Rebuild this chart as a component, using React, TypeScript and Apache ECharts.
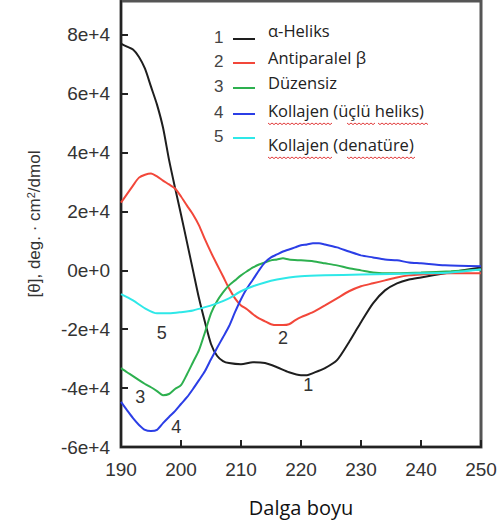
import React, { useEffect, useRef } from "react";
import * as echarts from "echarts";

const seriesNames = ["α-Heliks", "Antiparalel β", "Düzensiz", "Kollajen (üçlü heliks)", "Kollajen (denatüre)"];
const seriesNumbers = ["1", "2", "3", "4", "5"];
const seriesColors = ["#1e1e1e", "#f2473a", "#2db04f", "#2b3ee6", "#2ee8e8"];

const helixX = [190, 191, 192, 193, 194, 195, 196, 197, 198, 199, 200, 201, 202, 203, 204, 205, 206, 207, 208, 210, 212, 214, 216, 218, 220, 221, 222, 224, 226, 228, 229, 230, 232, 234, 236, 238, 240, 244, 250];
const helixY = [77000, 76000, 75000, 72500, 68500, 62400, 56300, 48500, 37600, 28100, 19000, 9500, 0, -9500, -17600, -25000, -29000, -30800, -31500, -31900, -31200, -31500, -32900, -34600, -35600, -35600, -34900, -33200, -30500, -24400, -21000, -17600, -11200, -6800, -4400, -3100, -2400, -1000, 1000];

const betaX = [190, 192, 193, 194, 195, 196, 197, 198, 199, 200, 201, 202, 203, 204, 205, 206, 207, 208, 209, 210, 211, 212, 213, 214, 215, 216, 217, 218, 219, 220, 222, 224, 226, 228, 230, 232, 234, 236, 238, 240, 245, 250];
const betaY = [23000, 28800, 31500, 32500, 32900, 31900, 30500, 29200, 27800, 25100, 22000, 19000, 15300, 10500, 6100, 2000, -2000, -6100, -9500, -11900, -13200, -14900, -16300, -17300, -18300, -18600, -18600, -18300, -17000, -15900, -14200, -11900, -9500, -7100, -5400, -4400, -3400, -2400, -1700, -1400, -1000, -1000];

const coilX = [190, 191, 192, 193, 194, 195, 196, 197, 198, 199, 200, 201, 202, 203, 204, 205, 206, 207, 208, 209, 210, 211, 212, 213, 214, 215, 216, 217, 218, 220, 222, 224, 226, 228, 230, 232, 235, 240, 245, 250];
const coilY = [-33200, -34600, -35900, -37300, -38600, -39700, -41000, -42400, -42000, -40300, -39000, -35300, -31200, -27100, -21000, -14600, -10500, -7500, -5100, -3400, -1700, -300, 1000, 2000, 2700, 3400, 3700, 4100, 3700, 3400, 3100, 2400, 1700, 700, 0, -700, -1000, -700, -300, 300];

const collagenX = [190, 191, 192, 193, 194, 195, 196, 197, 198, 199, 200, 201, 202, 203, 204, 205, 206, 207, 208, 209, 210, 211, 212, 213, 214, 215, 216, 217, 218, 219, 220, 221, 222, 223, 224, 226, 228, 230, 232, 234, 236, 238, 240, 244, 250];
const collagenY = [-44700, -47500, -50200, -52500, -54200, -54600, -54200, -51900, -49800, -47800, -45400, -43100, -40300, -37300, -34200, -30200, -26400, -22700, -19000, -14200, -9800, -6100, -3100, 0, 2700, 4400, 5400, 6400, 7100, 7800, 8500, 8800, 9200, 9200, 8800, 7800, 6400, 5100, 4400, 3700, 3400, 2700, 2400, 1700, 1400];

const denatX = [190, 192, 194, 196, 198, 200, 202, 204, 206, 208, 210, 212, 214, 216, 218, 220, 224, 230, 240, 245, 250];
const denatY = [-8100, -10200, -12900, -14600, -14600, -14200, -13600, -12500, -11200, -9500, -7100, -5400, -4100, -3100, -2400, -2000, -1700, -1400, -1000, -700, 300];

const seriesX = [helixX, betaX, coilX, collagenX, denatX];
const seriesY = [helixY, betaY, coilY, collagenY, denatY];

// curve number annotations (wavelength, value)
const annotX = [221.2, 217, 193.2, 199.2, 196.8];
const annotY = [-39000, -23000, -43000, -53200, -21400];

const xMin = 190;
const xMax = 250;
const xInterval = 10;
const yMin = -60000;
const yMax = 91500;
const yInterval = 20000;

const xAxisTitle = "Dalga boyu";

export default function App() {
  const ref = useRef<HTMLDivElement>(null);
  useEffect(() => {
    if (!ref.current) return;
    const chart = echarts.init(ref.current, undefined, { renderer: "svg" });
    const series = seriesNames.map((name, i) => ({
      name,
      type: "line",
      data: seriesX[i].map((x, j) => [x, seriesY[i][j]]),
      showSymbol: false,
      smooth: 0.25,
      lineStyle: { color: seriesColors[i], width: 2 },
      itemStyle: { color: seriesColors[i] },
      z: 3,
      markPoint: {
        symbol: "circle",
        symbolSize: 0,
        silent: true,
        label: {
          show: true,
          formatter: seriesNumbers[i],
          color: "#333",
          fontSize: 18,
          fontFamily: "Liberation Sans, Arial, sans-serif",
          position: "inside",
        },
        data: [{ coord: [annotX[i], annotY[i]] }],
      },
    }));

    const legendRowsNum = [38, 62, 87, 113, 137];
    const legendRowsText = [33, 60, 85, 113, 147];
    const graphics: any[] = [];
    seriesNames.forEach((name, i) => {
      graphics.push({
        type: "text",
        left: 214,
        top: legendRowsNum[i] - 9,
        style: { text: seriesNumbers[i], fill: "#444", fontSize: 17, fontFamily: "Liberation Sans, Arial, sans-serif" },
      });
      graphics.push({
        type: "line",
        shape: { x1: 233, y1: legendRowsNum[i] + 1, x2: 255, y2: legendRowsNum[i] + 1 },
        style: { stroke: seriesColors[i], lineWidth: 2 },
      });
      graphics.push({
        type: "text",
        left: 268,
        top: legendRowsText[i] - 11,
        style: { text: name, fill: "#222", fontSize: 16.5, fontFamily: "Open Sans, sans-serif" },
      });
    });
    // spell-check wavy underlines
    const squiggles = [
      [268, 333, 123], [347, 375, 123], [378, 428, 123],
      [268, 333, 157], [347, 416, 157],
    ];
    squiggles.forEach(([a, b, y]) => {
      const pts: number[][] = [];
      let k = 0;
      for (let x = a; x <= b; x += 2) {
        pts.push([x, y + (k % 2 === 0 ? 0 : 1.6)]);
        k++;
      }
      graphics.push({ type: "polyline", shape: { points: pts }, style: { stroke: "#e23b3b", lineWidth: 1, fill: null } });
    });

    chart.setOption({
      animation: false,
      backgroundColor: "#fff",
      grid: {
        left: 121,
        right: 23,
        top: 1,
        bottom: 79,
        show: true,
        borderColor: "#555",
        borderWidth: 3,
        backgroundColor: "transparent",
      },
      xAxis: {
        type: "value",
        min: xMin,
        max: xMax,
        interval: xInterval,
        name: xAxisTitle,
        nameLocation: "middle",
        nameGap: 50,
        nameTextStyle: { fontSize: 20, color: "#111", fontFamily: "Open Sans, sans-serif" },
        axisLine: { show: true, onZero: false, lineStyle: { color: "#222", width: 2 } },
        axisTick: { show: true, inside: true, length: 7, lineStyle: { color: "#222", width: 2 } },
        axisLabel: { fontSize: 19, color: "#333", margin: 13, fontFamily: "Liberation Sans, Arial, sans-serif" },
        splitLine: { show: false },
      },
      yAxis: {
        type: "value",
        min: yMin,
        max: yMax,
        interval: yInterval,
        name: "[θ], deg. · cm{sup|2}/dmol",
        nameLocation: "middle",
        nameRotate: 90,
        nameGap: 77,
        nameTextStyle: {
          fontSize: 17,
          color: "#333",
          fontFamily: "Liberation Sans, Arial, sans-serif",
          rich: {
            sup: { fontSize: 11, verticalAlign: "top", color: "#333", padding: [0, 0, 8, 0] },
          },
        },
        axisLine: { show: true, onZero: false, lineStyle: { color: "#222", width: 2 } },
        axisTick: { show: true, inside: true, length: 7, lineStyle: { color: "#222", width: 2 } },
        axisLabel: {
          fontSize: 19,
          color: "#333",
          margin: 11,
          showMaxLabel: false,
          fontFamily: "Liberation Sans, Arial, sans-serif",
          formatter: (v: number) => (v === 0 ? "0e+0" : `${v / 10000}e+4`),
        },
        splitLine: { show: false },
      },
      series,
      graphic: graphics,
    });
    return () => chart.dispose();
  }, []);
  return <div ref={ref} style={{ position: "fixed", left: 0, top: 0, width: 504, height: 526 }} />;
}
